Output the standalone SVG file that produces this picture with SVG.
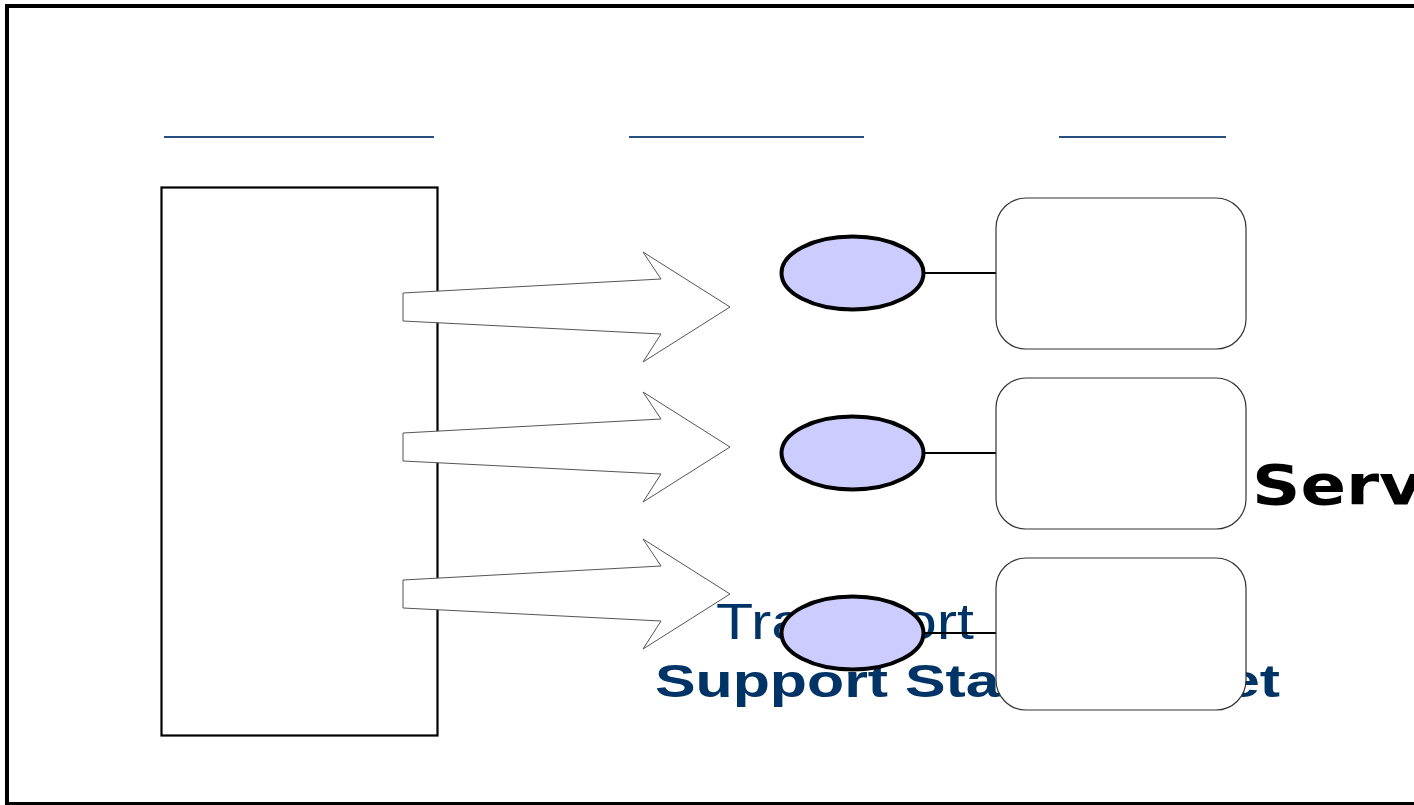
<svg xmlns="http://www.w3.org/2000/svg" width="1414" height="805" viewBox="0 0 1414 805">
<style>
.frame{fill:none;stroke:#000;stroke-width:4}
.hdr{stroke:#274f80;stroke-width:2.2}
.arrow{fill:#fff;stroke:#555;stroke-width:1}
.iface{fill:#ccccff;stroke:#000;stroke-width:4}
.svc{fill:#fff;stroke:#333;stroke-width:1.2}
.conn{stroke:#000;stroke-width:2.2}
.t1{font-family:"Liberation Sans",Arial,sans-serif;fill:#003366}
.t2{font-family:"DejaVu Sans",Verdana,sans-serif;font-weight:bold;fill:#000}
</style>
<rect x="0" y="0" width="1414" height="805" fill="#fff"/>
<rect class="frame" x="7" y="6" width="1420" height="798"/>
<g id="headers">
<line class="hdr" x1="164" y1="137" x2="434" y2="137"/>
<line class="hdr" x1="629" y1="137" x2="864" y2="137"/>
<line class="hdr" x1="1059" y1="137" x2="1226" y2="137"/>
</g>
<g id="client">
<rect x="161.5" y="187.5" width="276" height="548" fill="#fff" stroke="#000" stroke-width="2.2"/>
</g>
<g id="arrows">
<polygon class="arrow" points="403,293 661,279 643,252 730,307 643,362 661,334 403,321"/>
<polygon class="arrow" points="403,433 661,419 643,392 730,447 643,502 661,474 403,461"/>
<polygon class="arrow" points="403,580 661,566 643,539 730,594 643,649 661,621 403,608"/>
</g>
<g id="labels">
<text class="t1" x="716" y="639" font-size="50" textLength="258" lengthAdjust="spacingAndGlyphs">Transport</text>
<text class="t1" x="655" y="697" font-size="46" font-weight="bold" textLength="625" lengthAdjust="spacingAndGlyphs">Support Standard Set</text>
<text class="t2" transform="translate(1252,504) scale(1.2,1)" x="0" y="0" font-size="56">Serv</text>
</g>
<g id="connectors">
<line class="conn" x1="924" y1="273" x2="997" y2="273"/>
<line class="conn" x1="924" y1="453" x2="997" y2="453"/>
<line class="conn" x1="924" y1="633" x2="997" y2="633"/>
</g>
<g id="iface1"><ellipse class="iface" cx="852.5" cy="273" rx="71" ry="36.5"/></g>
<g id="iface2"><ellipse class="iface" cx="852.5" cy="453" rx="71" ry="36.5"/></g>
<g id="iface3"><ellipse class="iface" cx="852.5" cy="633" rx="71" ry="36.5"/></g>
<g id="svc1"><rect class="svc" x="996" y="198" width="250" height="151" rx="30"/></g>
<g id="svc2"><rect class="svc" x="996" y="378" width="250" height="151" rx="30"/></g>
<g id="svc3"><rect class="svc" x="996" y="558" width="250" height="152" rx="30"/></g>
</svg>
